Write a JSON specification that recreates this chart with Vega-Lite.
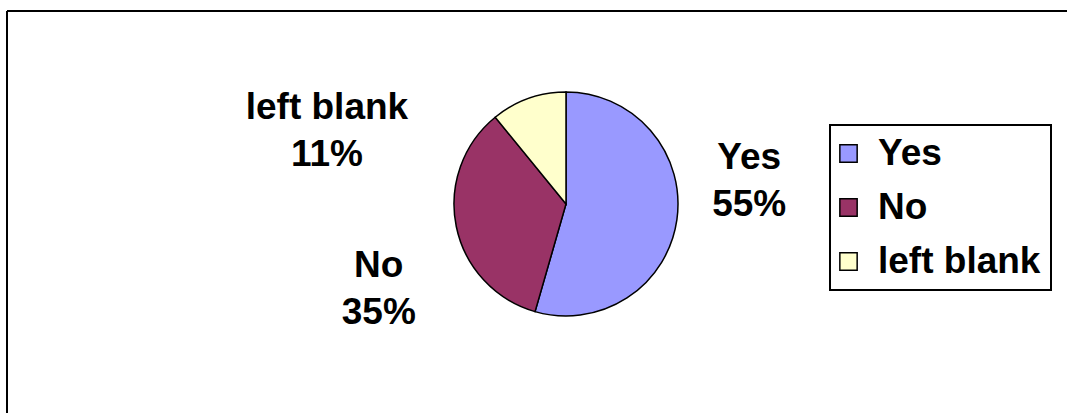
{
  "$schema": "https://vega.github.io/schema/vega-lite/v6.json",
  "width": 1060,
  "height": 402,
  "autosize": {"type": "none"},
  "padding": {"left": 7, "top": 11, "right": 0, "bottom": 0},
  "background": "white",
  "config": {
    "view": {"strokeWidth": 0, "strokeOpacity": 0},
    "font": "Liberation Sans",
    "legend": {"strokeWidth": 2}
  },
  "layer": [
    {
      "data": {"values": [{"frame": "top"}]},
      "mark": {"type": "rule", "stroke": "black", "strokeWidth": 2},
      "encoding": {"y": {"value": 0}}
    },
    {
      "data": {"values": [{"frame": "left"}]},
      "mark": {"type": "rule", "stroke": "black", "strokeWidth": 2},
      "encoding": {"x": {"value": 0}}
    },
    {
      "data": {
        "values": [
          {"category": "Yes", "value": 55, "order": 1},
          {"category": "No", "value": 35, "order": 2},
          {"category": "left blank", "value": 11, "order": 3}
        ]
      },
      "transform": [
        {"calculate": "datum.category + '\\n' + datum.value + '%'", "as": "label"}
      ],
      "encoding": {
        "theta": {"field": "value", "type": "quantitative", "stack": true, "scale": {"nice": false}},
        "order": {"field": "order", "type": "quantitative"}
      },
      "layer": [
        {
          "mark": {"type": "arc", "outerRadius": 112, "stroke": "black", "strokeWidth": 1.5, "xOffset": 29, "yOffset": -8},
          "encoding": {
            "color": {
              "field": "category",
              "type": "nominal",
              "sort": ["Yes", "No", "left blank"],
              "scale": {"domain": ["Yes", "No", "left blank"], "range": ["#9999FF", "#993366", "#FFFFCC"]},
              "legend": {
                "orient": "none",
                "legendX": 823,
                "legendY": 114,
                "title": null,
                "symbolType": "square",
                "symbolSize": 300,
                "symbolStrokeColor": "black",
                "symbolStrokeWidth": 1.5,
                "symbolOpacity": 1,
                "symbolOffset": -10,
                "labelFontSize": 37,
                "labelFont": "Liberation Sans",
                "labelFontWeight": "bold",
                "labelColor": "black",
                "labelOffset": 11,
                "labelLimit": 0,
                "rowPadding": 16,
                "padding": 10,
                "strokeColor": "black"
              }
            }
          }
        },
        {
          "mark": {"type": "text", "radius": 185, "xOffset": 29, "yOffset": -8, "dx": 0, "dy": -72, "font": "Liberation Sans", "fontWeight": "bold", "fontSize": 37, "lineHeight": 47, "lineBreak": "\n", "align": "center", "baseline": "middle", "color": "black"},
          "encoding": {
            "text": {"condition": {"test": "datum.category === 'Yes'", "field": "label"}, "value": ""}
          }
        },
        {
          "mark": {"type": "text", "radius": 185, "xOffset": 29, "yOffset": -8, "dx": -6, "dy": 25, "font": "Liberation Sans", "fontWeight": "bold", "fontSize": 37, "lineHeight": 47, "lineBreak": "\n", "align": "center", "baseline": "middle", "color": "black"},
          "encoding": {
            "text": {"condition": {"test": "datum.category === 'No'", "field": "label"}, "value": ""}
          }
        },
        {
          "mark": {"type": "text", "radius": 185, "xOffset": 29, "yOffset": -8, "dx": -177, "dy": 78, "font": "Liberation Sans", "fontWeight": "bold", "fontSize": 37, "lineHeight": 47, "lineBreak": "\n", "align": "center", "baseline": "middle", "color": "black"},
          "encoding": {
            "text": {"condition": {"test": "datum.category === 'left blank'", "field": "label"}, "value": ""}
          }
        }
      ]
    }
  ]
}
